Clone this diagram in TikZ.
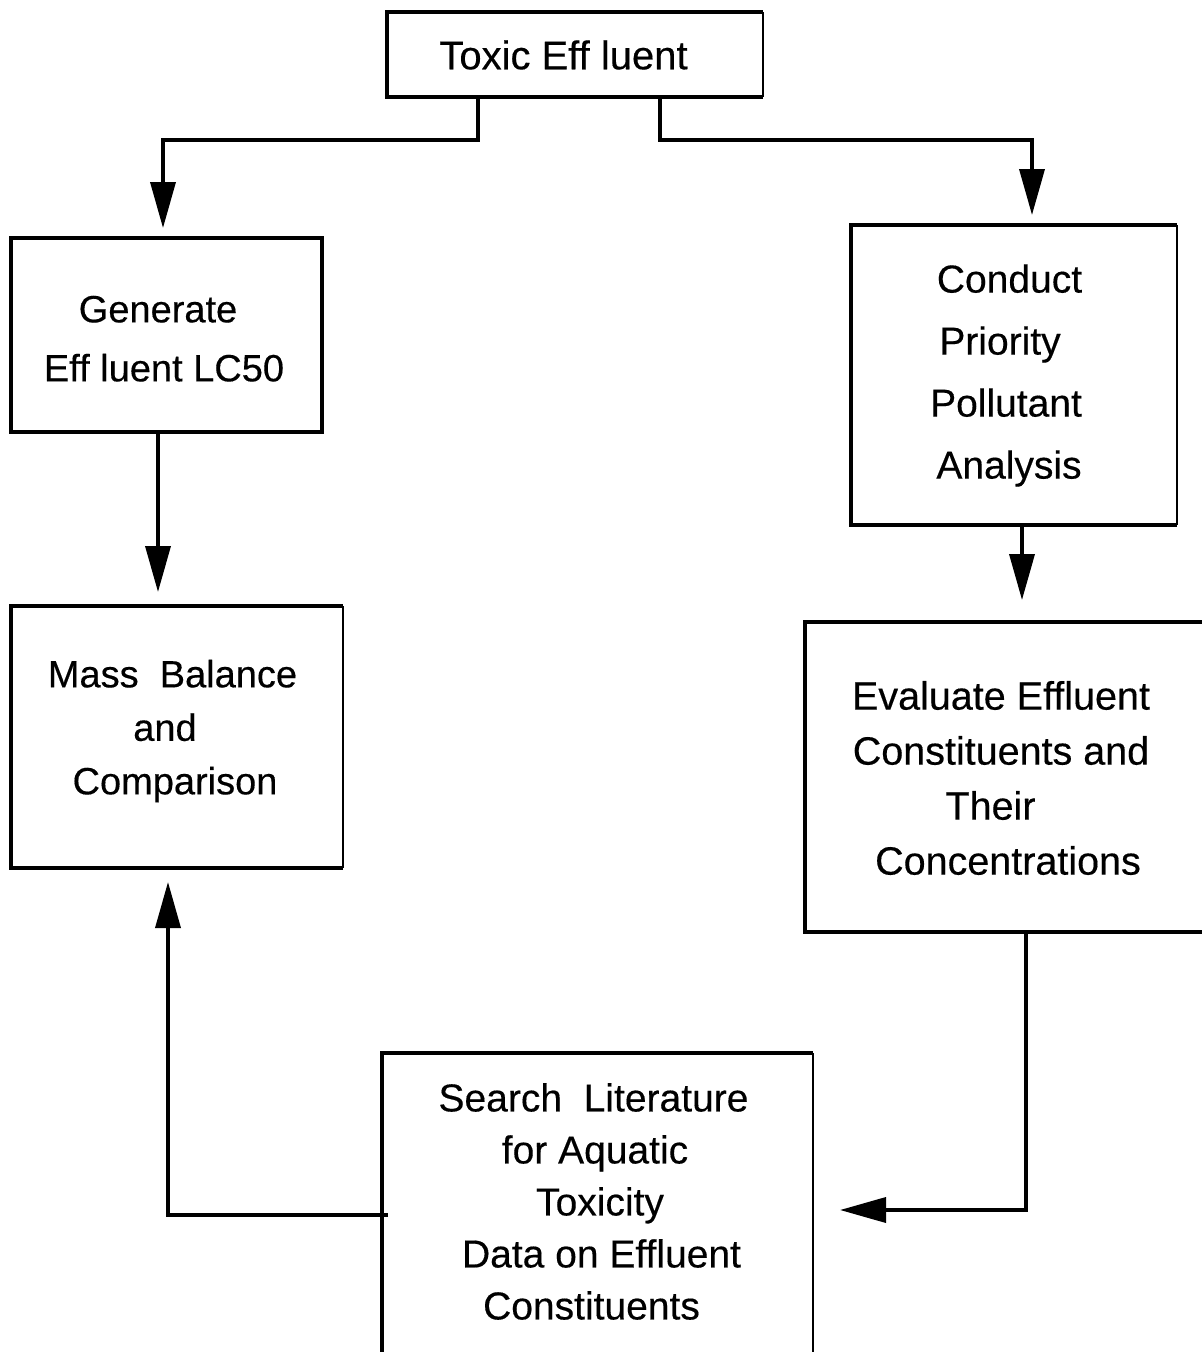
\documentclass[tikz,border=0pt]{standalone}
\usepackage{fontspec}
\setmainfont[FakeBold=0.35]{Liberation Sans}
\usetikzlibrary{arrows.meta,calc}
\newcommand{\mvx}[2]{\kern#1pt#2\kern-#1pt}
\begin{document}
\begin{tikzpicture}[x=1pt,y=1pt,
  box/.style={rectangle, inner sep=0pt, outer sep=0pt},
  txt/.style={inner sep=0pt, align=center},
  thk/.style={line width=4.2pt},
  thn/.style={line width=2pt},
  conn/.style={line width=3.6pt, -{Triangle[length=46pt,width=25pt]}}
]
\useasboundingbox (0,0) rectangle (1202,-1352);

% boxes
\node[box, minimum width=376pt, minimum height=85pt]  (top)    at (575,-54.5) {};
\node[box, minimum width=311pt, minimum height=194pt] (gen)    at (166.5,-335) {};
\node[box, minimum width=332pt, minimum height=262pt] (mass)   at (177,-737) {};
\node[box, minimum width=326pt, minimum height=300pt] (cond)   at (1014,-375) {};
\node[box, minimum width=397pt, minimum height=310pt] (eval)   at (1003.5,-777) {};
\node[box, minimum width=431pt, minimum height=299pt] (search) at (597.5,-1202.5) {};

% box outlines
\draw[thk] (top.north east) -- (top.north west) -- (top.south west) -- (top.south east);
\draw[thn] (top.north east) -- (top.south east);
\draw[thk] (gen.north west) rectangle (gen.south east);
\draw[thk] (mass.north east) -- (mass.north west) -- (mass.south west) -- (mass.south east);
\draw[thn] (mass.north east) -- (mass.south east);
\draw[thk] (cond.north east) -- (cond.north west) -- (cond.south west) -- (cond.south east);
\draw[thn] (cond.north east) -- (cond.south east);
\draw[thk] (eval.north east) -- (eval.north west) -- (eval.south west) -- (eval.south east);
\draw[thk] (search.south west) -- (search.north west) -- (search.north east);
\draw[line width=2.8pt] (search.north east) -- (search.south east);

% texts
\node[txt, font=\fontsize{40}{48}\selectfont] (topT) at (563.5,-55) {Toxic Eff luent};
\node[txt, font=\fontsize{38}{59}\selectfont] (genT) at (161,-338.75)
  {\mvx{-3}{Generate}\\\mvx{3}{Eff luent LC50}};
\node[txt, font=\fontsize{38}{53.5}\selectfont] (massT) at (171,-731)
  {\mvx{1.5}{Mass\ \ Balance}\\\mvx{-6}{and}\\\mvx{4}{Comparison}};
\node[txt, font=\fontsize{39}{62}\selectfont] (condT) at (1006,-375.5)
  {\mvx{3.5}{Conduct}\\\mvx{-6}{Priority}\\\mvx{0}{Pollutant}\\\mvx{3}{Analysis}};
\node[txt, font=\fontsize{39.5}{55}\selectfont] (evalT) at (1000,-778)
  {\mvx{1}{Evaluate Effluent}\\\mvx{1}{Constituents and}\\\mvx{-9.5}{Their}\\\mvx{8}{Concentrations}};
\node[txt, font=\fontsize{39}{52}\selectfont] (searchT) at (596,-1201.5)
  {\mvx{-2.5}{Search\ \ Literature}\\\mvx{-1}{for Aquatic}\\\mvx{4}{Toxicity}\\\mvx{5.5}{Data on Effluent}\\\mvx{-4.5}{Constituents}};

% connectors
\draw[conn, shorten >=10pt] ($(top.south)+(-97,0)$) -- ++(0,-43) -| ($(gen.north)+(-3.5,0)$);
\draw[conn, shorten >=10pt] ($(top.south)+(85,0)$) -- ++(0,-43) -| ($(cond.north)+(18,0)$);
\draw[conn, shorten >=14pt] ($(gen.south)+(-8.5,0)$) -- ($(mass.north)+(-19,0)$);
\draw[conn, shorten >=22pt] ($(cond.south)+(8,0)$) -- ($(eval.north)+(18.5,0)$);
\draw[conn, shorten >=27pt] ($(eval.south)+(22.5,0)$) |- ($(search.east)+(0,-7.5)$);
\draw[conn, shorten >=14pt] ($(search.west)+(6,-12.5)$) -| ($(mass.south)+(-9,0)$);
\end{tikzpicture}
\end{document}
